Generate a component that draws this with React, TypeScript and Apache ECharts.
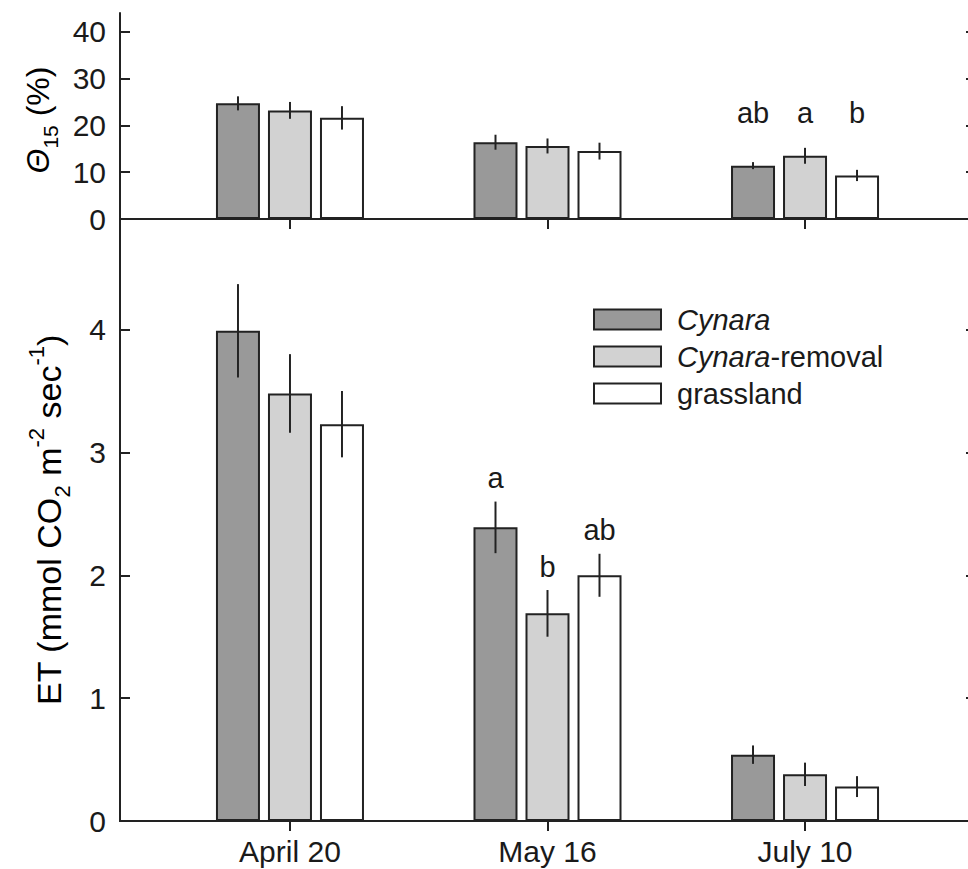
import React, { useEffect, useRef } from 'react';
import * as echarts from 'echarts';

const categories = ['April 20', 'May 16', 'July 10'];
const seriesNames = ['Cynara', 'Cynara-removal', 'grassland'];
const fills = ['#999999', '#d2d2d2', '#ffffff'];

// Top panel: soil water content (%)
const thetaCynara = [24.7, 16.4, 11.4];
const thetaRemoval = [23.2, 15.6, 13.5];
const thetaGrassland = [21.6, 14.5, 9.3];
const thetaErrCynara = [1.5, 1.6, 0.75];
const thetaErrRemoval = [1.8, 1.6, 1.7];
const thetaErrGrassland = [2.5, 1.8, 1.2];
const thetaLettersCynara = ['', '', 'ab'];
const thetaLettersRemoval = ['', '', 'a'];
const thetaLettersGrassland = ['', '', 'b'];

// Bottom panel: ET
const etCynara = [3.99, 2.39, 0.54];
const etRemoval = [3.48, 1.69, 0.38];
const etGrassland = [3.23, 2.0, 0.28];
const etErrCynara = [0.38, 0.21, 0.075];
const etErrRemoval = [0.32, 0.19, 0.095];
const etErrGrassland = [0.27, 0.175, 0.085];
const etLettersCynara = ['', 'a', ''];
const etLettersRemoval = ['', 'b', ''];
const etLettersGrassland = ['', 'ab', ''];

const yTicksTop = [0, 10, 20, 30, 40];
const yTicksBottom = [0, 1, 2, 3, 4];

const FONT = '"Liberation Sans", Arial, Helvetica, sans-serif';
const INK = '#1a1a1a';
const BAR_W = 44;
const BAR_STEP = 52;
const CAT_X = [1, 2, 3];
const TICK_FS = 30;

export default function App() {
  const ref = useRef<HTMLDivElement>(null);

  useEffect(() => {
    if (!ref.current) return;
    const chart = echarts.init(ref.current, undefined, { renderer: 'svg' });

    const thetaVals = [thetaCynara, thetaRemoval, thetaGrassland];
    const thetaErrs = [thetaErrCynara, thetaErrRemoval, thetaErrGrassland];
    const thetaLet = [thetaLettersCynara, thetaLettersRemoval, thetaLettersGrassland];
    const etVals = [etCynara, etRemoval, etGrassland];
    const etErrs = [etErrCynara, etErrRemoval, etErrGrassland];
    const etLet = [etLettersCynara, etLettersRemoval, etLettersGrassland];

    const errData = (vals: number[][], errs: number[][]) => {
      const out: number[][] = [];
      vals.forEach((arr, s) =>
        arr.forEach((v, c) => out.push([CAT_X[c], v - errs[s][c], v + errs[s][c], s]))
      );
      return out;
    };
    const letterData = (vals: number[][], errs: number[][], lets: string[][]) => {
      const data: number[][] = [];
      const texts: string[] = [];
      vals.forEach((arr, s) =>
        arr.forEach((v, c) => {
          if (lets[s][c]) {
            data.push([CAT_X[c], v + errs[s][c], s]);
            texts.push(lets[s][c]);
          }
        })
      );
      return { data, texts };
    };

    const errRender = (params: any, api: any) => {
      const x = api.value(0);
      const a = api.coord([x, api.value(1)]);
      const b = api.coord([x, api.value(2)]);
      const px = a[0] + (api.value(3) - 1) * BAR_STEP;
      return {
        type: 'line',
        shape: { x1: px, y1: a[1], x2: px, y2: b[1] },
        style: { stroke: '#222', lineWidth: 2 },
      };
    };

    const topLetters = letterData(thetaVals, thetaErrs, thetaLet);
    const botLetters = letterData(etVals, etErrs, etLet);

    const letterText = (text: string, x: number, y: number) => ({
      type: 'text',
      x,
      y,
      style: {
        text,
        fontSize: 29,
        fontFamily: FONT,
        fill: INK,
        align: 'center',
        verticalAlign: 'bottom',
      },
    });

    const axisLine = { show: true, lineStyle: { color: '#222', width: 2 } };
    const xAxisBase = {
      type: 'value',
      min: 0.34,
      max: 3.66,
      splitLine: { show: false },
    };

    const thetaRich = {
      n: { fontSize: 32, fontFamily: FONT, color: INK, lineHeight: 46 },
      i: { fontSize: 32, fontFamily: FONT, color: INK, lineHeight: 46, fontStyle: 'italic' },
      sub: { fontSize: 21, fontFamily: FONT, color: INK, lineHeight: 18, verticalAlign: 'bottom' },
    };
    const etRich = {
      n: { fontSize: 34, fontFamily: FONT, color: INK, lineHeight: 48 },
      sub: { fontSize: 22, fontFamily: FONT, color: INK, lineHeight: 18, verticalAlign: 'bottom' },
      sup: { fontSize: 22, fontFamily: FONT, color: INK, lineHeight: 18, verticalAlign: 'top' },
    };

    const tickStyle = { color: '#222', width: 2 };

    const option: any = {
      animation: false,
      backgroundColor: '#ffffff',
      grid: [
        { left: 120, width: 855, top: 13, height: 206 },
        { left: 120, width: 855, top: 219, height: 602 },
      ],
      xAxis: [
        { ...xAxisBase, gridIndex: 0, position: 'bottom', axisLine, axisTick: { show: false }, axisLabel: { show: false } },
        {
          ...xAxisBase, gridIndex: 0, position: 'top', axisLine,
          axisTick: { show: true, inside: true, length: 10, customValues: CAT_X, lineStyle: tickStyle },
          axisLabel: { show: false },
        },
        {
          ...xAxisBase, gridIndex: 1, position: 'top', axisLine,
          axisTick: { show: true, inside: true, length: 10, customValues: CAT_X, lineStyle: tickStyle },
          axisLabel: { show: false },
        },
        {
          ...xAxisBase, gridIndex: 1, position: 'bottom', axisLine,
          axisTick: { show: true, inside: false, length: 8, customValues: CAT_X, lineStyle: tickStyle },
          axisLabel: {
            show: true,
            customValues: CAT_X,
            formatter: (v: number) => categories[Math.round(v) - 1] || '',
            fontSize: TICK_FS,
            fontFamily: FONT,
            color: INK,
            margin: 15,
          },
        },
      ],
      yAxis: [
        {
          type: 'value', gridIndex: 0, position: 'left', min: 0, max: 44, splitLine: { show: false }, axisLine,
          axisTick: { show: true, inside: true, length: 10, customValues: yTicksTop, lineStyle: tickStyle },
          axisLabel: { show: true, customValues: yTicksTop, fontSize: TICK_FS, fontFamily: FONT, color: INK, margin: 14 },
        },
        {
          type: 'value', gridIndex: 0, position: 'right', min: 0, max: 44, splitLine: { show: false }, axisLine,
          axisTick: { show: true, inside: true, length: 9, customValues: yTicksTop, lineStyle: tickStyle },
          axisLabel: { show: false },
        },
        {
          type: 'value', gridIndex: 1, position: 'left', min: 0, max: 4.9, splitLine: { show: false }, axisLine,
          axisTick: { show: true, inside: true, length: 10, customValues: yTicksBottom, lineStyle: tickStyle },
          axisLabel: { show: true, customValues: yTicksBottom, fontSize: TICK_FS, fontFamily: FONT, color: INK, margin: 14 },
        },
        {
          type: 'value', gridIndex: 1, position: 'right', min: 0, max: 4.9, splitLine: { show: false }, axisLine,
          axisTick: { show: true, inside: true, length: 9, customValues: yTicksBottom, lineStyle: tickStyle },
          axisLabel: { show: false },
        },
      ],
      legend: {
        show: true,
        data: seriesNames,
        orient: 'vertical',
        left: 593,
        top: 305,
        padding: 0,
        itemWidth: 67,
        itemHeight: 20,
        itemGap: 8,
        icon: 'rect',
        itemStyle: { borderColor: '#222', borderWidth: 2 },
        formatter: (name: string) =>
          name === 'Cynara' ? '{i|Cynara}' : name === 'Cynara-removal' ? '{i|Cynara}{n|-removal}' : '{n|grassland}',
        textStyle: {
          padding: [0, 0, 0, 11],
          rich: {
            n: { fontSize: 29, fontFamily: FONT, color: INK },
            i: { fontSize: 29, fontFamily: FONT, color: INK, fontStyle: 'italic' },
          },
        },
      },
      graphic: [
        {
          type: 'text',
          x: 38,
          y: 120,
          rotation: Math.PI / 2,
          style: {
            text: '{i|Θ}{sub|15}{n| (%)}',
            rich: thetaRich,
            align: 'center',
            verticalAlign: 'middle',
          },
        },
        {
          type: 'text',
          x: 49,
          y: 520,
          rotation: Math.PI / 2,
          style: {
            text: '{n|ET (mmol CO}{sub|2}{n| m}{sup|-2}{n| sec}{sup|-1}{n|)}',
            rich: etRich,
            align: 'center',
            verticalAlign: 'middle',
          },
        },
      ],
      series: [
        ...thetaVals.map((vals, s) => ({
          type: 'bar',
          name: seriesNames[s],
          xAxisIndex: 0,
          yAxisIndex: 0,
          barWidth: BAR_W,
          barGap: ((BAR_STEP - BAR_W) / BAR_W * 100).toFixed(1) + '%',
          itemStyle: { color: fills[s], borderColor: '#222', borderWidth: 2 },
          data: vals.map((v, c) => [CAT_X[c], v]),
          z: 2,
        })),
        ...etVals.map((vals, s) => ({
          type: 'bar',
          name: seriesNames[s],
          xAxisIndex: 3,
          yAxisIndex: 2,
          barWidth: BAR_W,
          barGap: ((BAR_STEP - BAR_W) / BAR_W * 100).toFixed(1) + '%',
          itemStyle: { color: fills[s], borderColor: '#222', borderWidth: 2 },
          data: vals.map((v, c) => [CAT_X[c], v]),
          z: 2,
        })),
        {
          type: 'custom',
          name: 'errTop',
          xAxisIndex: 0,
          yAxisIndex: 0,
          renderItem: errRender,
          encode: { x: 0, y: [1, 2] },
          data: errData(thetaVals, thetaErrs),
          z: 5,
        },
        {
          type: 'custom',
          name: 'errBottom',
          xAxisIndex: 3,
          yAxisIndex: 2,
          renderItem: errRender,
          encode: { x: 0, y: [1, 2] },
          data: errData(etVals, etErrs),
          z: 5,
        },
        {
          type: 'custom',
          name: 'lettersTop',
          xAxisIndex: 0,
          yAxisIndex: 0,
          encode: { x: 0, y: 1 },
          renderItem: (params: any, api: any) => {
            const x = api.value(0);
            const p = api.coord([x, 19.5]);
            const px = p[0] + (api.value(2) - 1) * BAR_STEP;
            return letterText(topLetters.texts[params.dataIndex], px, p[1]);
          },
          data: topLetters.data,
          z: 5,
        },
        {
          type: 'custom',
          name: 'lettersBottom',
          xAxisIndex: 3,
          yAxisIndex: 2,
          encode: { x: 0, y: 1 },
          renderItem: (params: any, api: any) => {
            const x = api.value(0);
            const p = api.coord([x, api.value(1)]);
            const px = p[0] + (api.value(2) - 1) * BAR_STEP;
            return letterText(botLetters.texts[params.dataIndex], px, p[1] - 9);
          },
          data: botLetters.data,
          z: 5,
        },
      ],
    };

    chart.setOption(option);
    return () => chart.dispose();
  }, []);

  return (
    <div
      style={{ position: 'absolute', left: 0, top: 0, width: 968, height: 869, overflow: 'hidden', background: '#fff' }}
    >
      <div ref={ref} style={{ width: 990, height: 869 }} />
    </div>
  );
}
